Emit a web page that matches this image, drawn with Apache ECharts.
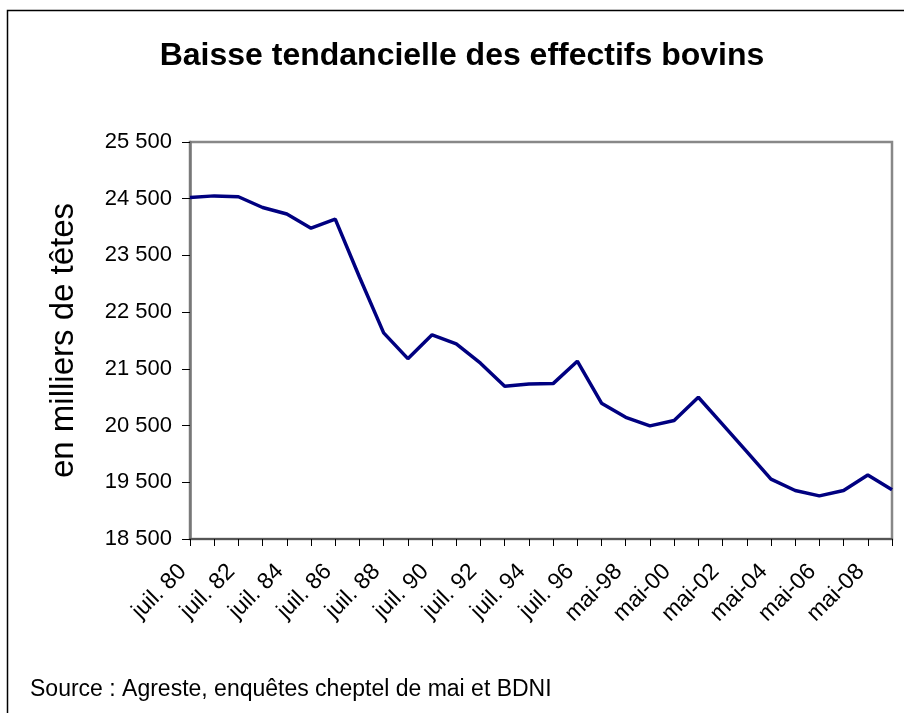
<!DOCTYPE html>
<html>
<head>
<meta charset="utf-8">
<title>Baisse tendancielle des effectifs bovins</title>
<script src="https://cdn.jsdelivr.net/npm/echarts@6/dist/echarts.min.js"></script>
<style>
    html, body { margin: 0; padding: 0; background: #fff; }
    #chart { width: 904px; height: 713px; }
</style>
</head>
<body>
<div id="chart"></div>
<script>
// campagnes 1980 -> 2009
const xLabels = [
    'juil. 80', 'juil. 81', 'juil. 82', 'juil. 83', 'juil. 84', 'juil. 85',
    'juil. 86', 'juil. 87', 'juil. 88', 'juil. 89', 'juil. 90', 'juil. 91',
    'juil. 92', 'juil. 93', 'juil. 94', 'juil. 95', 'juil. 96', 'mai-97',
    'mai-98', 'mai-99', 'mai-00', 'mai-01', 'mai-02', 'mai-03',
    'mai-04', 'mai-05', 'mai-06', 'mai-07', 'mai-08', 'mai-09'
];
// effectifs en milliers de têtes
const effectifs = [
    24520, 24550, 24535, 24345, 24230, 23980,
    24140, 23120, 22135, 21680, 22100, 21940,
    21600, 21195, 21235, 21240, 21635, 20895,
    20645, 20495, 20590, 21000, 20520, 20040,
    19555, 19355, 19260, 19355, 19630, 19370
];
const yTicks = [18500, 19500, 20500, 21500, 22500, 23500, 24500, 25500];

const titre = 'Baisse tendancielle des effectifs bovins';
const source = 'Source : Agreste, enquêtes cheptel de mai et BDNI';
const font = '"Liberation Sans", Arial, sans-serif';

document.addEventListener('DOMContentLoaded', function () {
    renderChart();
});

function formatMilliers(value) {
    let k = Math.floor(value / 1000);
    let r = String(value % 1000).padStart(3, '0');
    return k > 0 ? k + ' ' + r : String(value);
}

function renderChart() {
    var chart = echarts.init(document.getElementById('chart'), null, { renderer: 'canvas' });
    var option = {
        backgroundColor: '#fff',
        animation: false,
        textStyle: { fontFamily: font, color: '#000' },
        graphic: [
            {
                // cadre du graphique
                type: 'rect',
                shape: { x: 7.5, y: 10.5, width: 1000, height: 1000 },
                style: { fill: 'none', stroke: '#000', lineWidth: 1.5 },
                silent: true
            },
            {
                type: 'text',
                x: 462, y: 56,
                style: {
                    text: titre,
                    font: 'bold 32px ' + font,
                    fill: '#000',
                    textAlign: 'center',
                    textVerticalAlign: 'middle'
                }
            },
            {
                type: 'text',
                x: 30, y: 690,
                style: {
                    text: source,
                    font: '23px ' + font,
                    fill: '#000',
                    textAlign: 'left',
                    textVerticalAlign: 'middle'
                }
            }
        ],
        grid: {
            left: 190,
            right: 12,
            top: 142,
            bottom: 174,
            show: true,
            borderColor: '#888',
            borderWidth: 2.5
        },
        xAxis: {
            type: 'category',
            data: xLabels,
            boundaryGap: false,
            axisLine: { lineStyle: { color: '#555', width: 2 } },
            axisTick: { show: true, interval: 0, length: 7, lineStyle: { color: '#000', width: 1 } },
            axisLabel: {
                interval: 1,
                rotate: 45,
                margin: 22,
                padding: [0, 10, 0, 0],
                fontSize: 23,
                fontFamily: font,
                color: '#000'
            },
            splitLine: { show: false }
        },
        yAxis: {
            type: 'value',
            min: 18500,
            max: 25500,
            name: 'en milliers de têtes',
            nameLocation: 'middle',
            nameRotate: 90,
            nameGap: 110,
            nameTextStyle: { fontSize: 33, fontFamily: font, color: '#000' },
            axisLine: { show: true, lineStyle: { color: '#777', width: 2.5 } },
            axisTick: {
                show: true,
                length: 8,
                customValues: yTicks,
                lineStyle: { color: '#000', width: 1 }
            },
            axisLabel: {
                customValues: yTicks,
                margin: 18,
                fontSize: 22,
                fontFamily: font,
                color: '#000',
                formatter: formatMilliers
            },
            splitLine: { show: false }
        },
        series: [{
            type: 'line',
            data: effectifs,
            showSymbol: false,
            symbol: 'none',
            lineStyle: { color: '#000080', width: 3.5 },
            itemStyle: { color: '#000080' }
        }]
    };
    chart.setOption(option);
}
</script>
</body>
</html>
